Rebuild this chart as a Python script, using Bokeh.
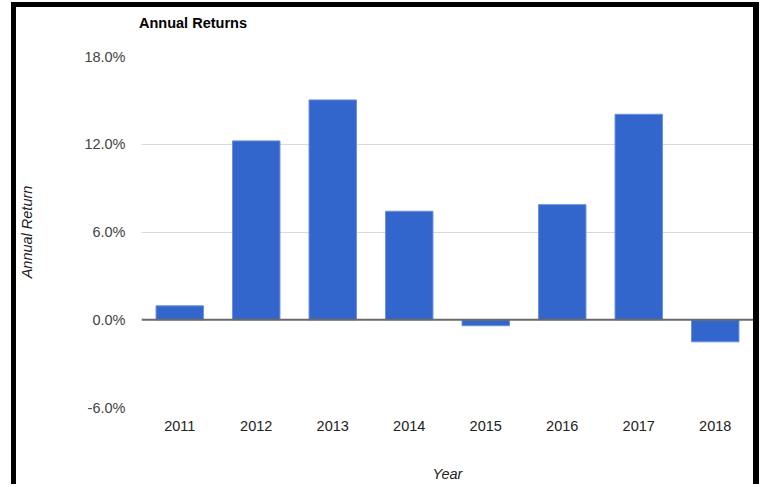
from bokeh.plotting import figure
from bokeh.models import FixedTicker, PrintfTickFormatter, Span, ColumnDataSource, Spacer, Div
from bokeh.layouts import row, column
from bokeh.embed import file_html
from bokeh.resources import INLINE

# ---- data ----
years = ["2011", "2012", "2013", "2014", "2015", "2016", "2017", "2018"]
returns = [0.95, 12.23, 15.03, 7.42, -0.41, 7.87, 14.05, -1.51]
y_ticks = [-6, 0, 6, 12, 18]
title_text = "Annual Returns"
x_title = "Year"
y_title = "Annual Return"

FONT = "Liberation Sans"
W = 737
TITLE_TOP = 6
TITLE_H = 25
H = 446

source = ColumnDataSource(data=dict(year=years, ret=returns))

p = figure(
    title=None,
    x_range=years,
    y_range=(y_ticks[0], y_ticks[-1]),
    width=W,
    height=H,
    output_backend="svg",
    toolbar_location=None,
    min_border_left=123,
    min_border_right=0,
    min_border_top=18,
    min_border_bottom=77,
)

p.vbar(x="year", top="ret", bottom=0, width=0.62, source=source,
       fill_color="#3366cc", line_color="#6b8fdc", line_width=1)

p.add_layout(Span(location=0, dimension="width", line_color="#6a6a6a", line_width=2))

p.outline_line_color = None
p.background_fill_color = "white"
p.border_fill_color = "white"

p.xgrid.grid_line_color = None
p.ygrid.grid_line_color = "#d9d9d9"
p.ygrid.grid_line_width = 1

for ax in (p.xaxis, p.yaxis):
    ax.axis_line_color = None
    ax.major_tick_line_color = None
    ax.minor_tick_line_color = None
    ax.major_tick_out = 0
    ax.major_tick_in = 0
    ax.major_label_text_font = FONT
    ax.major_label_text_font_size = "14.5px"
    ax.axis_label_text_font = FONT
    ax.axis_label_text_font_size = "14.5px"
    ax.axis_label_text_font_style = "italic"
    ax.axis_label_text_color = "#222222"

p.yaxis.ticker = FixedTicker(ticks=y_ticks)
p.yaxis.formatter = PrintfTickFormatter(format="%.1f%%")
p.yaxis.major_label_text_color = "#444444"
p.yaxis.major_label_standoff = 16
p.yaxis.axis_label = y_title
p.yaxis.axis_label_standoff = 46

p.xaxis.major_label_text_color = "#222222"
p.xaxis.major_label_standoff = 13
p.xaxis.axis_label = x_title
p.xaxis.axis_label_standoff = 32

title = Div(
    text=title_text,
    width=W,
    height=TITLE_H,
    margin=(TITLE_TOP, 0, 0, 0),
    styles={
        "font-family": FONT,
        "font-size": "14.5px",
        "font-weight": "bold",
        "color": "#000000",
        "padding-left": "123px",
        "box-sizing": "border-box",
        "background-color": "white",
    },
)

# black screenshot frame around the chart
black = {"background-color": "black"}
full_h = TITLE_TOP + TITLE_H + H
top_row = row(Spacer(width=11, height=5), Spacer(width=748, height=5, styles=black))
main_row = row(
    Spacer(width=11, height=full_h),
    Spacer(width=5, height=full_h, styles=black),
    column(title, p),
    Spacer(width=6, height=full_h, styles=black),
)
layout = column(Spacer(width=759, height=2), top_row, main_row)

open("out.html", "w").write(file_html(layout, INLINE))
